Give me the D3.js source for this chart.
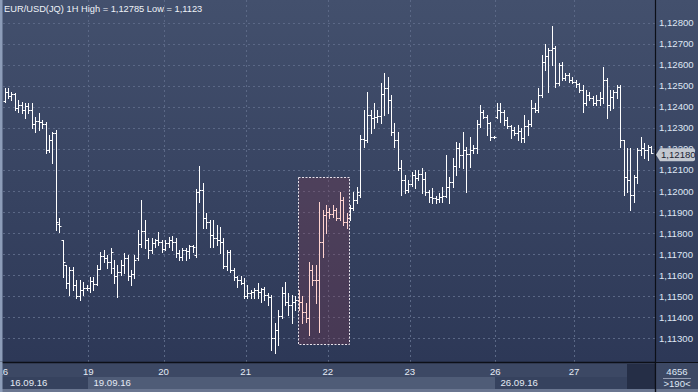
<!DOCTYPE html>
<html><head><meta charset="utf-8">
<script src="https://cdn.jsdelivr.net/npm/d3@7/dist/d3.min.js"></script>
<style>html,body{margin:0;padding:0;background:#2c3756;}svg{display:block;font-family:"Liberation Sans",Arial,sans-serif;}</style>
</head><body><svg id="c" width="698" height="392"></svg>
<script>
const title = "EUR/USD(JQ) 1H High = 1,12785 Low = 1,1123";
const open = [1.12428,1.12471,1.12452,1.12462,1.12395,1.12409,1.12386,1.12405,1.12386,1.12319,
1.12333,1.12329,1.12319,1.12196,1.12243,1.12276,1.11844,1.11768,1.11649,1.11564,
1.11626,1.11554,1.11502,1.11531,1.11540,1.11540,1.11573,1.11559,1.11630,1.11692,
1.11683,1.11664,1.11635,1.11597,1.11616,1.11649,1.11683,1.11597,1.11607,1.11683,
1.11749,1.11811,1.11768,1.11721,1.11754,1.11768,1.11759,1.11725,1.11754,1.11768,
1.11759,1.11706,1.11687,1.11721,1.11716,1.11740,1.11697,1.11996,1.12006,1.11873,
1.11854,1.11792,1.11778,1.11768,1.11759,1.11645,1.11711,1.11626,1.11592,1.11578,
1.11564,1.11502,1.11516,1.11521,1.11531,1.11521,1.11535,1.11507,1.11497,1.11303,
1.11341,1.11407,1.11516,1.11474,1.11459,1.11474,1.11483,1.11474,1.11426,1.11398,
1.11626,1.11578,1.11578,1.11759,1.11887,1.11901,1.11892,1.11911,1.11873,1.11958,
1.11854,1.11873,1.11920,1.11958,1.11982,1.12248,1.12243,1.12362,1.12348,1.12352,
1.12357,1.12462,1.12490,1.12433,1.12281,1.12243,1.12110,1.12053,1.12006,1.12034,
1.12077,1.12063,1.12082,1.12058,1.11996,1.11972,1.11968,1.11963,1.11972,1.11977,
1.12020,1.12044,1.12120,1.12205,1.12172,1.12196,1.12177,1.12196,1.12205,1.12319,
1.12376,1.12352,1.12324,1.12257,1.12352,1.12386,1.12376,1.12338,1.12310,1.12291,
1.12276,1.12286,1.12253,1.12310,1.12319,1.12395,1.12386,1.12457,1.12614,1.12642,
1.12671,1.12680,1.12514,1.12599,1.12538,1.12552,1.12528,1.12519,1.12509,1.12481,
1.12419,1.12457,1.12443,1.12419,1.12433,1.12443,1.12528,1.12409,1.12447,1.12471,
1.12495,1.12243,1.12067,1.12053,1.11982,1.12067,1.12196,1.12205,1.12196,1.12210];
const high = [1.12490,1.12490,1.12471,1.12466,1.12433,1.12424,1.12419,1.12419,1.12419,1.12352,
1.12371,1.12338,1.12329,1.12267,1.12281,1.12291,1.11873,1.11768,1.11649,1.11640,
1.11640,1.11578,1.11578,1.11569,1.11554,1.11592,1.11592,1.11649,1.11711,1.11721,
1.11697,1.11730,1.11673,1.11649,1.11673,1.11706,1.11697,1.11626,1.11697,1.11816,
1.11958,1.11863,1.11778,1.11778,1.11773,1.11806,1.11768,1.11768,1.11782,1.11787,
1.11778,1.11721,1.11730,1.11730,1.11744,1.11744,1.12010,1.12120,1.12039,1.11896,
1.11863,1.11863,1.11839,1.11830,1.11778,1.11721,1.11721,1.11635,1.11597,1.11597,
1.11588,1.11554,1.11531,1.11540,1.11564,1.11540,1.11545,1.11516,1.11507,1.11374,
1.11436,1.11545,1.11569,1.11516,1.11507,1.11502,1.11531,1.11502,1.11469,1.11664,
1.11649,1.11649,1.11949,1.11911,1.11934,1.11920,1.11934,1.11920,1.11996,1.11972,
1.11896,1.11934,1.11996,1.12020,1.12267,1.12386,1.12471,1.12386,1.12419,1.12386,
1.12514,1.12561,1.12542,1.12457,1.12324,1.12281,1.12148,1.12077,1.12053,1.12091,
1.12101,1.12101,1.12110,1.12091,1.12006,1.12015,1.11977,1.11991,1.12020,1.12172,
1.12067,1.12158,1.12234,1.12229,1.12281,1.12210,1.12257,1.12219,1.12338,1.12409,
1.12386,1.12362,1.12329,1.12262,1.12419,1.12419,1.12386,1.12352,1.12314,1.12305,
1.12314,1.12300,1.12362,1.12338,1.12433,1.12419,1.12490,1.12647,1.12699,1.12680,
1.12785,1.12690,1.12609,1.12614,1.12561,1.12561,1.12542,1.12528,1.12514,1.12504,
1.12481,1.12471,1.12452,1.12457,1.12471,1.12590,1.12538,1.12481,1.12481,1.12504,
1.12504,1.12243,1.12205,1.12205,1.12077,1.12205,1.12257,1.12229,1.12219,1.12215];
const low = [1.12424,1.12443,1.12433,1.12386,1.12376,1.12371,1.12348,1.12371,1.12300,1.12281,
1.12291,1.12300,1.12181,1.12186,1.12134,1.11816,1.11806,1.11592,1.11540,1.11507,
1.11531,1.11493,1.11483,1.11507,1.11531,1.11521,1.11531,1.11554,1.11630,1.11664,
1.11635,1.11611,1.11564,1.11497,1.11602,1.11611,1.11578,1.11554,1.11588,1.11673,
1.11735,1.11730,1.11683,1.11706,1.11735,1.11744,1.11711,1.11721,1.11735,1.11721,
1.11687,1.11673,1.11673,1.11673,1.11683,1.11711,1.11687,1.11949,1.11825,1.11825,
1.11735,1.11735,1.11744,1.11706,1.11635,1.11626,1.11616,1.11578,1.11545,1.11559,
1.11493,1.11493,1.11493,1.11493,1.11493,1.11474,1.11483,1.11459,1.11246,1.11230,
1.11269,1.11398,1.11459,1.11412,1.11374,1.11436,1.11436,1.11374,1.11379,1.11317,
1.11554,1.11469,1.11331,1.11687,1.11801,1.11873,1.11877,1.11863,1.11863,1.11839,
1.11825,1.11863,1.11911,1.11944,1.11972,1.12210,1.12234,1.12276,1.12300,1.12329,
1.12324,1.12362,1.12371,1.12267,1.12210,1.12101,1.11982,1.11991,1.11996,1.12025,
1.12015,1.12053,1.11991,1.11982,1.11949,1.11944,1.11944,1.11949,1.11949,1.11972,
1.11944,1.12020,1.12077,1.12115,1.12110,1.11996,1.12115,1.12181,1.12181,1.12305,
1.12348,1.12267,1.12243,1.12253,1.12348,1.12329,1.12314,1.12300,1.12253,1.12267,
1.12243,1.12234,1.12234,1.12267,1.12310,1.12376,1.12376,1.12447,1.12576,1.12471,
1.12599,1.12495,1.12504,1.12528,1.12528,1.12519,1.12514,1.12495,1.12471,1.12376,
1.12409,1.12433,1.12409,1.12409,1.12409,1.12419,1.12348,1.12386,1.12395,1.12443,
1.12210,1.11982,1.11996,1.11911,1.11949,1.12039,1.12172,1.12158,1.12148,1.12181];
const close = [1.12471,1.12452,1.12462,1.12395,1.12409,1.12386,1.12405,1.12386,1.12319,1.12333,
1.12329,1.12319,1.12196,1.12243,1.12276,1.11854,1.11835,1.11664,1.11564,1.11626,
1.11554,1.11502,1.11531,1.11540,1.11540,1.11573,1.11559,1.11630,1.11692,1.11683,
1.11664,1.11711,1.11597,1.11616,1.11649,1.11683,1.11597,1.11607,1.11673,1.11749,
1.11811,1.11768,1.11721,1.11754,1.11768,1.11759,1.11725,1.11754,1.11768,1.11759,
1.11706,1.11687,1.11721,1.11716,1.11740,1.11735,1.11996,1.12006,1.11873,1.11854,
1.11792,1.11778,1.11768,1.11759,1.11645,1.11711,1.11626,1.11592,1.11578,1.11564,
1.11502,1.11516,1.11521,1.11531,1.11521,1.11535,1.11507,1.11497,1.11303,1.11341,
1.11407,1.11516,1.11474,1.11459,1.11474,1.11483,1.11474,1.11426,1.11398,1.11626,
1.11578,1.11578,1.11759,1.11887,1.11901,1.11892,1.11911,1.11873,1.11958,1.11854,
1.11873,1.11920,1.11958,1.11996,1.12248,1.12243,1.12362,1.12348,1.12352,1.12357,
1.12462,1.12490,1.12433,1.12281,1.12243,1.12110,1.12053,1.12006,1.12034,1.12077,
1.12063,1.12082,1.12058,1.11996,1.11972,1.11968,1.11963,1.11972,1.11977,1.12020,
1.12044,1.12120,1.12205,1.12172,1.12196,1.12177,1.12196,1.12205,1.12319,1.12376,
1.12352,1.12324,1.12257,1.12257,1.12386,1.12376,1.12338,1.12310,1.12291,1.12276,
1.12286,1.12253,1.12310,1.12319,1.12395,1.12386,1.12457,1.12614,1.12642,1.12671,
1.12680,1.12514,1.12599,1.12538,1.12552,1.12528,1.12519,1.12509,1.12481,1.12419,
1.12457,1.12443,1.12419,1.12433,1.12443,1.12528,1.12409,1.12447,1.12471,1.12495,
1.12243,1.12067,1.12053,1.11982,1.12067,1.12196,1.12205,1.12196,1.12210,1.12181];

// day boundaries (bar index where each day starts) and labels
const dayStarts = [0, 25, 47, 71, 95, 119, 144, 167];
const dayLabels = ["16", "19", "20", "21", "22", "23", "26", "27"];
// weeks in the date row
const weekStarts = [0, 25, 144];
const weekLabels = ["16.09.16", "19.09.16", "26.09.16"];
// price grid levels
const priceTicks = [1.128,1.127,1.126,1.125,1.124,1.123,1.122,1.121,1.120,1.119,1.118,1.117,1.116,1.115,1.114,1.113];
// highlighted region (bars and price span)
const hlFrom = 86, hlTo = 100, hlTop = 1.12065, hlBottom = 1.11272;
const lastPrice = 1.12180;
const barCountLabel = "4656";
const visibleLabel = ">190<";

const W = 698, H = 392, plotR = 656, plotB = 362;
const svg = d3.select("#c");
const defs = svg.append("defs");
const g1 = defs.append("linearGradient").attr("id","bg").attr("x1",0).attr("y1",0).attr("x2",0).attr("y2",1);
g1.append("stop").attr("offset","0%").attr("stop-color","#43506d");
g1.append("stop").attr("offset","100%").attr("stop-color","#2b3655");
defs.append("clipPath").attr("id","plotclip").append("rect").attr("x",0).attr("y",0).attr("width",plotR).attr("height",plotB);

svg.append("rect").attr("width",W).attr("height",H).attr("fill","url(#bg)");

const n = open.length;
const x = d3.scaleLinear().domain([0, n-1]).range([4.5, 651]);
const step = x(1) - x(0);
const y = d3.scaleLinear().domain([1.113, 1.128]).range([338.3, 22.7]);
const fmt = v => d3.format(".5f")(v).replace(".", ",");

const plot = svg.append("g").attr("clip-path","url(#plotclip)");
// grid
plot.selectAll("line.hg").data(priceTicks).join("line")
  .attr("x1",3).attr("x2",plotR).attr("y1",d=>Math.round(y(d))+0.5).attr("y2",d=>Math.round(y(d))+0.5)
  .attr("stroke","#5b6886").attr("stroke-dasharray","2,3");
plot.selectAll("line.vg").data(dayStarts.slice(1)).join("line")
  .attr("x1",d=>Math.round(x(d)-step/2)+0.5).attr("x2",d=>Math.round(x(d)-step/2)+0.5)
  .attr("y1",0).attr("y2",plotB)
  .attr("stroke","#5b6886").attr("stroke-dasharray","2,3");

// highlight
plot.append("rect")
  .attr("x", Math.round(x(hlFrom) - 0.3) + 0.5)
  .attr("y", Math.round(y(hlTop)) + 0.5)
  .attr("width", Math.round(x(hlTo) + 2.8 - x(hlFrom) + 0.3))
  .attr("height", Math.round(y(hlBottom) - y(hlTop)))
  .attr("fill","rgba(125,58,80,0.33)")
  .attr("stroke","#e8e2ea").attr("stroke-width",1).attr("stroke-dasharray","2,1.5");

// bars
const idx = d3.range(n);
const col = i => (i >= hlFrom && i <= hlTo) ? "#ffd3cf" : "#ffffff";
const bars = plot.append("g");
bars.selectAll("rect.v").data(idx).join("rect")
  .attr("x", i => Math.round(x(i)))
  .attr("y", i => Math.round(y(high[i])))
  .attr("width", 1)
  .attr("height", i => Math.max(1, Math.round(y(low[i])) - Math.round(y(high[i])) + 1))
  .attr("fill", col);
bars.selectAll("rect.o").data(idx).join("rect")
  .attr("x", i => Math.round(x(i)) - 1.5)
  .attr("y", i => Math.round(y(open[i])))
  .attr("width", 1.5).attr("height", 1).attr("fill", col);
bars.selectAll("rect.c").data(idx).join("rect")
  .attr("x", i => Math.round(x(i)) + 1)
  .attr("y", i => Math.round(y(close[i])))
  .attr("width", 1.5).attr("height", 1).attr("fill", col);

// title
svg.append("text").attr("x",4).attr("y",12).attr("fill","#eef2f8").attr("font-size","9.3px").text(title);

// left border strip
svg.append("rect").attr("x",0).attr("y",0).attr("width",2.5).attr("height",plotB).attr("fill","#8d9db9");

// bottom axis area
svg.append("rect").attr("x",0).attr("y",plotB).attr("width",plotR).attr("height",H-plotB).attr("fill","#3c4864");
svg.append("line").attr("x1",0).attr("x2",plotR).attr("y1",plotB+0.5).attr("y2",plotB+0.5).attr("stroke","#0c0f17").attr("stroke-width",1.5);
const wkEnd = 627;
weekStarts.forEach((s, k) => {
  const x0 = k === 0 ? 0 : Math.round(x(s) - step/2);
  const x1 = k < weekStarts.length - 1 ? Math.round(x(weekStarts[k+1]) - step/2) : wkEnd;
  svg.append("rect").attr("x",x0).attr("y",377).attr("width",x1-x0).attr("height",12)
    .attr("fill", k % 2 === 1 ? "#4f5c77" : "#36425e");
  svg.append("text").attr("x",x0+ (k===0?10:5.5)).attr("y",386).attr("fill","#e4eaf4").attr("font-size","9.6px").text(weekLabels[k]);
});
svg.append("rect").attr("x",wkEnd).attr("y",364).attr("width",plotR-wkEnd-1).attr("height",25).attr("fill","#252e46");
svg.selectAll("text.day").data(dayStarts).join("text")
  .attr("x", d => x(d) - step/2).attr("y",375).attr("text-anchor","middle")
  .attr("fill","#e4eaf4").attr("font-size","9.6px").text((d,i)=>dayLabels[i]);
svg.append("rect").attr("x",0).attr("y",389).attr("width",W).attr("height",3).attr("fill","#6a7690");
svg.append("rect").attr("x",0).attr("y",362).attr("width",2.5).attr("height",30).attr("fill","#8d9db9");

// right axis panel
svg.append("line").attr("x1",plotR-0.5).attr("x2",plotR-0.5).attr("y1",0).attr("y2",H).attr("stroke","#0c0f17").attr("stroke-width",1.2);
svg.selectAll("text.yl").data(priceTicks).join("text")
  .attr("x",659).attr("y",d=>y(d)+3.5).attr("fill","#dfe7f4").attr("font-size","9.6px").text(fmt);
// last price tag
const ty = y(lastPrice) + 1.5;
svg.append("path")
  .attr("d", `M${plotR},${ty} L${plotR+4},${ty-6.5} L${plotR+37},${ty-6.5} Q${plotR+39},${ty-6.5} ${plotR+39},${ty-4.5} L${plotR+39},${ty+4.5} Q${plotR+39},${ty+6.5} ${plotR+37},${ty+6.5} L${plotR+4},${ty+6.5} Z`)
  .attr("fill","#c3c8d0");
svg.append("text").attr("x",plotR+5).attr("y",ty+3.5).attr("fill","#1c2334").attr("font-size","9.6px").text(fmt(lastPrice));
// bottom right info
svg.append("rect").attr("x",plotR).attr("y",plotB+1).attr("width",W-plotR).attr("height",26).attr("fill","#3c4864");
svg.append("line").attr("x1",plotR).attr("x2",W).attr("y1",plotB+0.5).attr("y2",plotB+0.5).attr("stroke","#0c0f17").attr("stroke-width",1);
svg.append("text").attr("x",677).attr("y",375).attr("text-anchor","middle").attr("fill","#dfe7f4").attr("font-size","9.6px").text(barCountLabel);
svg.append("line").attr("x1",663).attr("x2",691).attr("y1",378.5).attr("y2",378.5).attr("stroke","#a9b3c6").attr("stroke-width",0.8);
svg.append("text").attr("x",677).attr("y",387).attr("text-anchor","middle").attr("fill","#dfe7f4").attr("font-size","9.6px").text(visibleLabel);
svg.append("line").attr("x1",plotR-0.5).attr("x2",plotR-0.5).attr("y1",plotB).attr("y2",H).attr("stroke","#0c0f17").attr("stroke-width",1.2);
</script></body></html>
